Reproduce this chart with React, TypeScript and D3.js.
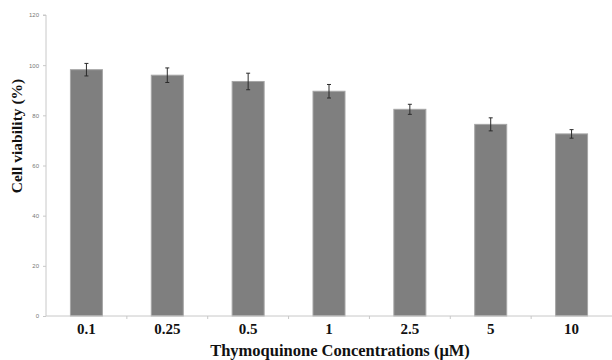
import { useEffect, useRef } from 'react'
import * as d3 from 'd3'

const CONCENTRATIONS = ['0.1', '0.25', '0.5', '1', '2.5', '5', '10']
const VIABILITY = [98.2, 96.0, 93.5, 89.6, 82.4, 76.4, 72.6]
const ERRORS = [2.5, 2.9, 3.3, 2.7, 2.0, 2.6, 1.7]
const Y_TICKS = [0, 20, 40, 60, 80, 100, 120]

const SERIF = '"Liberation Serif", "Times New Roman", serif'

export default function App() {
  const svgRef = useRef<SVGSVGElement | null>(null)

  useEffect(() => {
    const W = 612
    const H = 360
    const margin = { top: 15, right: 0, bottom: 44, left: 46 }
    const innerW = W - margin.left - margin.right
    const innerH = H - margin.top - margin.bottom
    const barW = 32

    const svg = d3.select(svgRef.current)
    svg.selectAll('*').remove()
    svg.attr('width', W).attr('height', H)

    const x = d3.scaleBand().domain(CONCENTRATIONS).range([0, innerW])
    const y = d3.scaleLinear().domain([0, 120]).range([innerH, 0])
    const cx = (i: number) => (x(CONCENTRATIONS[i]) as number) + x.bandwidth() / 2

    const g = svg.append('g').attr('transform', `translate(${margin.left},${margin.top})`)

    // Bars
    g.selectAll('rect.bar')
      .data(VIABILITY)
      .join('rect')
      .attr('class', 'bar')
      .attr('x', (_, i) => cx(i) - barW / 2)
      .attr('y', (d) => y(d))
      .attr('width', barW)
      .attr('height', (d) => innerH - y(d))
      .attr('fill', '#7f7f7f')
      .attr('stroke', '#a6a6a6')
      .attr('stroke-width', 1)

    // Error bars
    const eb = g.selectAll('g.err')
      .data(VIABILITY)
      .join('g')
      .attr('class', 'err')
      .attr('stroke', '#2b2b2b')
      .attr('stroke-width', 1)
    eb.append('line')
      .attr('x1', (_, i) => cx(i)).attr('x2', (_, i) => cx(i))
      .attr('y1', (d, i) => y(d + ERRORS[i])).attr('y2', (d, i) => y(d - ERRORS[i]))
    eb.append('line')
      .attr('x1', (_, i) => cx(i) - 2).attr('x2', (_, i) => cx(i) + 2)
      .attr('y1', (d, i) => y(d + ERRORS[i])).attr('y2', (d, i) => y(d + ERRORS[i]))
    eb.append('line')
      .attr('x1', (_, i) => cx(i) - 2).attr('x2', (_, i) => cx(i) + 2)
      .attr('y1', (d, i) => y(d - ERRORS[i])).attr('y2', (d, i) => y(d - ERRORS[i]))

    // Y axis
    g.append('g')
      .call(d3.axisLeft(y).tickValues(Y_TICKS).tickSize(3).tickPadding(4))
      .call((ax) => ax.select('.domain').attr('stroke', '#c8c8c8').attr('d', `M-3,0H0V${innerH}`))
      .call((ax) => ax.selectAll('line').attr('stroke', '#c8c8c8'))
      .call((ax) =>
        ax.selectAll('text')
          .attr('fill', '#777')
          .attr('font-size', 6)
          .attr('font-family', '"Liberation Sans", Arial, sans-serif')
      )

    // X axis
    g.append('g')
      .attr('transform', `translate(0,${innerH})`)
      .call(d3.axisBottom(x).tickSize(0).tickPadding(7))
      .call((ax) => ax.select('.domain').attr('stroke', '#c8c8c8').attr('d', `M0,0H${innerW}`))
      .call((ax) =>
        ax.selectAll('text')
          .attr('fill', '#111')
          .attr('font-size', 15)
          .attr('font-weight', 'bold')
          .attr('font-family', SERIF)
      )

    // band boundary ticks
    g.append('g')
      .selectAll('line')
      .data(CONCENTRATIONS.slice(1))
      .join('line')
      .attr('x1', (d) => x(d) as number).attr('x2', (d) => x(d) as number)
      .attr('y1', innerH).attr('y2', innerH + 3)
      .attr('stroke', '#c8c8c8')

    // Axis titles
    svg.append('text')
      .attr('x', 340)
      .attr('y', 356)
      .attr('text-anchor', 'middle')
      .attr('font-size', 16.5)
      .attr('font-weight', 'bold')
      .attr('font-family', SERIF)
      .attr('fill', '#111')
      .text('Thymoquinone Concentrations (μM)')

    svg.append('text')
      .attr('transform', 'translate(22,136) rotate(-90)')
      .attr('text-anchor', 'middle')
      .attr('font-size', 15.5)
      .attr('font-weight', 'bold')
      .attr('font-family', SERIF)
      .attr('fill', '#111')
      .text('Cell viability (%)')
  }, [])

  return (
    <div style={{ position: 'absolute', left: 0, top: 0 }}>
      <svg ref={svgRef} style={{ display: 'block' }} />
    </div>
  )
}
